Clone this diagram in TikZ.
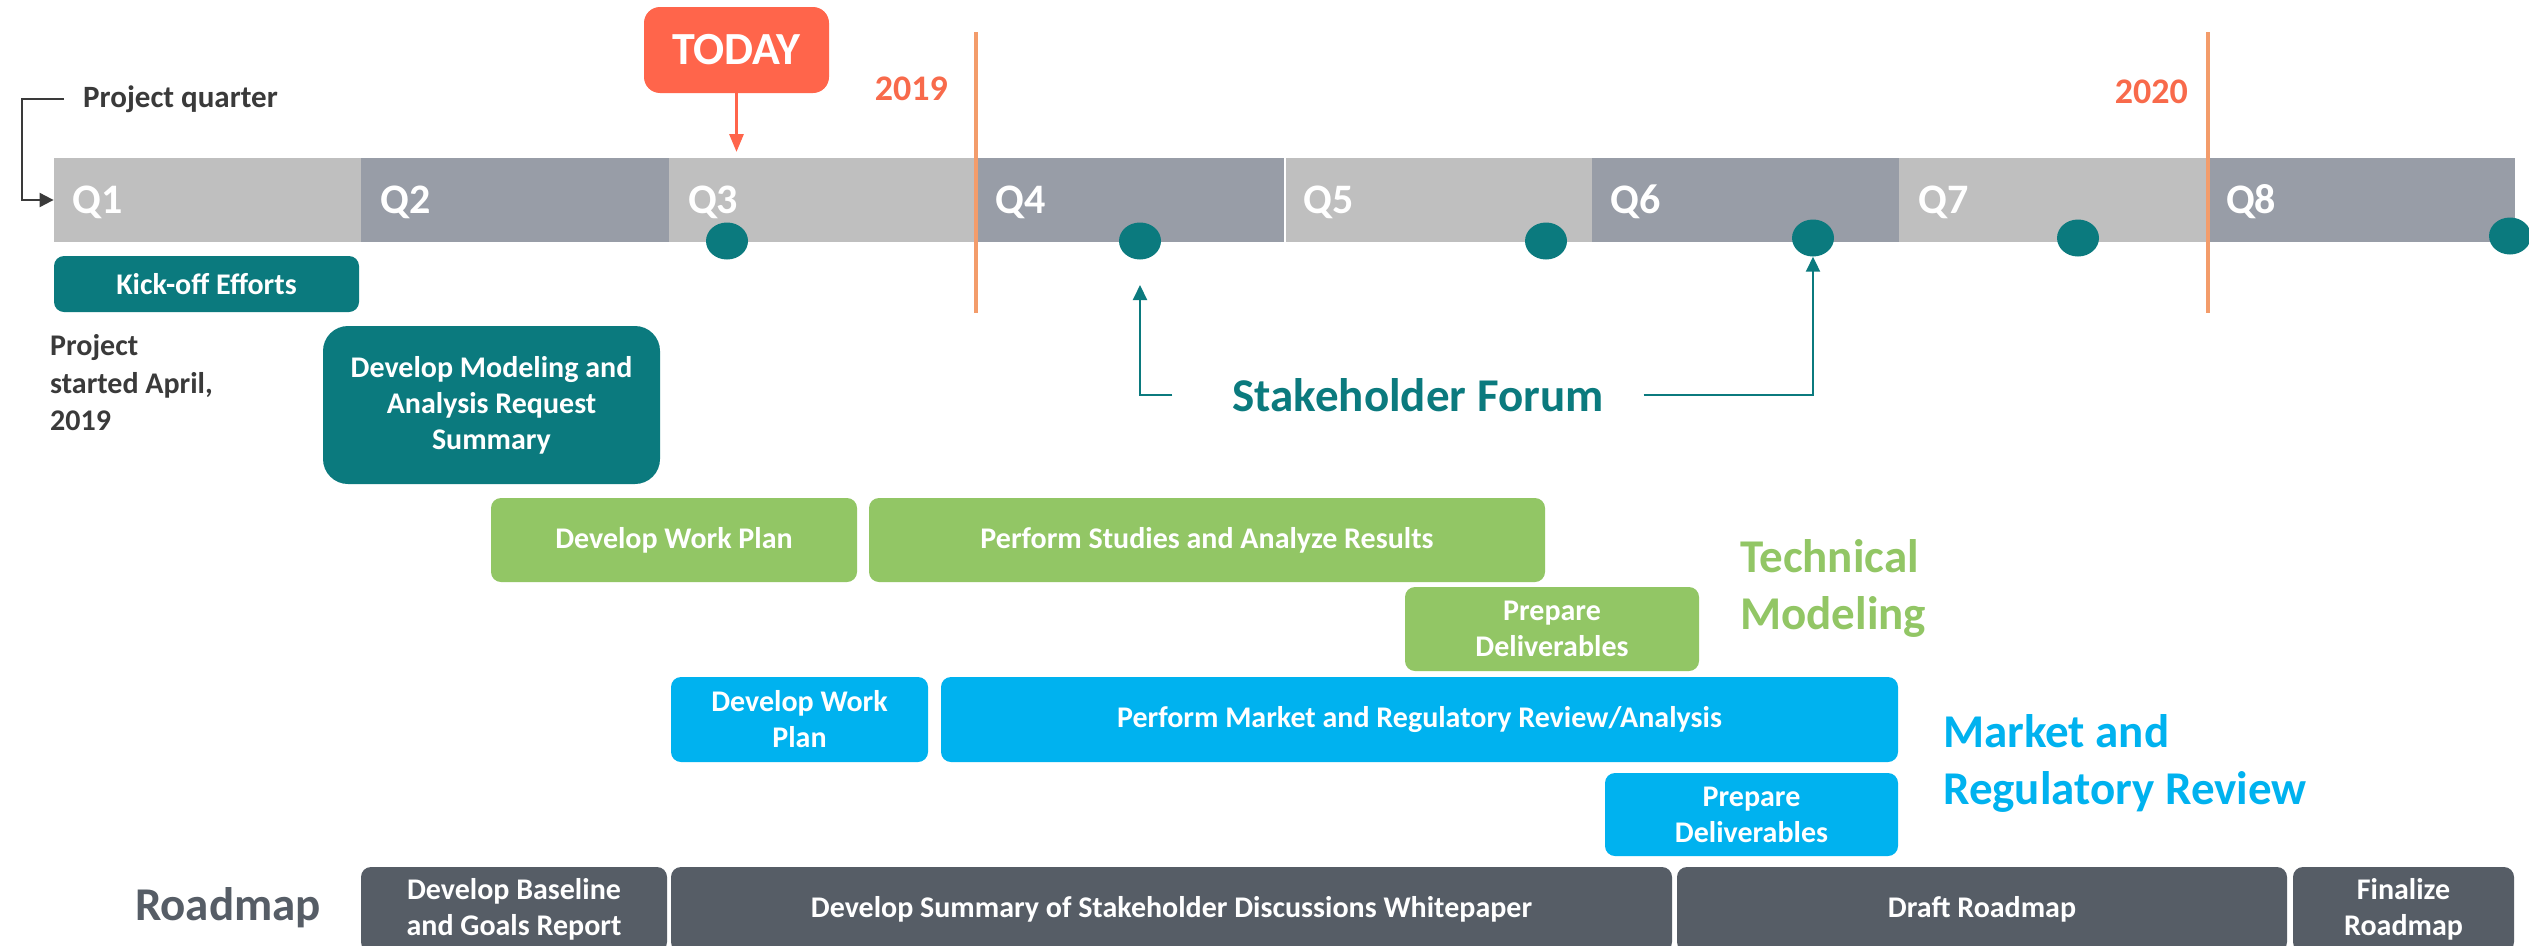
\documentclass[tikz,border=0pt]{standalone}
\usepackage{fontspec}
\setmainfont{Carlito}
\usetikzlibrary{shapes.geometric,arrows.meta}

\definecolor{cTeal}{HTML}{0B7A7E}
\definecolor{cGreen}{HTML}{92C665}
\definecolor{cBlue}{HTML}{00B2EF}
\definecolor{cSlate}{HTML}{565D66}
\definecolor{cBarLight}{HTML}{BFBFBF}
\definecolor{cBarDark}{HTML}{989DA7}
\definecolor{cToday}{HTML}{FF654B}
\definecolor{cYearText}{HTML}{F86A4B}
\definecolor{cYearLine}{HTML}{F39C6B}
\definecolor{cInk}{HTML}{3A3A3A}

% bold Carlito at a given size and line spacing
\newcommand\fsz[2]{\fontsize{#1}{#2}\selectfont\bfseries}

\begin{document}
\begin{tikzpicture}[x=1pt,y=-1pt,
  task/.style={rounded corners=10pt, inner sep=0pt, align=center, text=white, font=\fsz{30}{36}},
  quarter/.style={inner sep=0pt, minimum height=84pt, minimum width=308pt},
  qlabel/.style={anchor=west, inner sep=0pt, text=white, font=\fsz{42}{42}},
  milestone/.style={ellipse, fill=cTeal, inner sep=0pt, minimum width=42pt, minimum height=37pt},
  bigtitle/.style={inner sep=0pt, font=\fsz{47}{57}},
  yearline/.style={cYearLine, line width=4pt},
  forumlink/.style={cTeal, line width=2pt, -{Triangle[length=15pt,width=14pt]}},
]
\clip (0,0) rectangle (2529,945);
\fill[white] (0,0) rectangle (2529,945);

% quarter bar
\node[quarter, fill=cBarLight] (q1) at (207.8,200) {};
\node[quarter, fill=cBarDark]  (q2) at (515.4,200) {};
\node[quarter, fill=cBarLight] (q3) at (823.0,200) {};
\node[quarter, fill=cBarDark]  (q4) at (1130.6,200) {};
\node[quarter, fill=cBarLight] (q5) at (1438.2,200) {};
\node[quarter, fill=cBarDark]  (q6) at (1745.8,200) {};
\node[quarter, fill=cBarLight] (q7) at (2053.4,200) {};
\node[quarter, fill=cBarDark]  (q8) at (2361.0,200) {};
\draw[white, line width=2pt] (q4.north east) -- (q4.south east);
\foreach \q/\t in {q1/Q1,q2/Q2,q3/Q3,q4/Q4,q5/Q5,q6/Q6,q7/Q7,q8/Q8}
  \node[qlabel] at ([xshift=19pt,yshift=-2pt]\q.west) {\t};

% year boundaries
\draw[yearline] (976,32) -- (976,313);
\draw[yearline] (2208,32) -- (2208,313);
\node[anchor=east, inner sep=0pt, text=cYearText, font=\fsz{36}{36}] (y2019) at (948,89) {2019};
\node[anchor=east, inner sep=0pt, text=cYearText, font=\fsz{36}{36}] (y2020) at (2188,92) {2020};

% today marker
\node[fill=cToday, rounded corners=16pt, minimum width=185pt, minimum height=86pt,
      inner sep=0pt, text=white, font=\fsz{46}{46}] (today) at (736.5,50) {TODAY};
\coordinate (todaytip) at (736.5,152);
\draw[cToday, line width=3pt, -{Triangle[length=18pt,width=14pt]}] (today.south) -- (todaytip);

% milestones
\node[milestone] (d1) at (727,241) {};
\node[milestone] (d2) at (1140,241) {};
\node[milestone] (d3) at (1546,241) {};
\node[milestone] (d4) at (1813,238) {};
\node[milestone] (d5) at (2078,238) {};
\node[milestone] (d6) at (2510,236) {};

% legend for the bar
\node[anchor=west, inner sep=0pt, text=cInk, font=\fsz{31}{31}] (pq) at (83,99) {Project quarter};
\draw[cInk, line width=2pt, -{Triangle[length=14pt,width=14pt]}]
  ([xshift=-19pt]pq.west) -- ++(-42,0) |- (q1.west);

\node[anchor=west, align=left, inner sep=0pt, text=cInk, font=\fsz{30}{37.5}] (ps) at (50,383)
  {Project\\started April,\\2019};

% stakeholder forum
\node[bigtitle, text=cTeal] (sf) at (1418,395) {Stakeholder Forum};
\coordinate (f2tip) at (1140,285);
\draw[forumlink] ([xshift=-60pt]sf.west) -| (f2tip);
\draw[forumlink] ([xshift=40pt]sf.east) -| (d4.south);

% workstream titles
\node[bigtitle, text=cGreen, anchor=west, align=left] (tm) at (1740,588) {Technical\\Modeling};
\node[bigtitle, text=cBlue, anchor=west, align=left] (mr) at (1943,763) {Market and\\Regulatory Review};
\node[bigtitle, text=cSlate] (rm) at (228,908) {Roadmap};

% kick-off tasks
\node[task, fill=cTeal, minimum width=305pt, minimum height=56pt] (kick) at (206.5,284) {Kick-off Efforts};
\node[task, fill=cTeal, rounded corners=25pt, minimum width=337pt, minimum height=158pt] (model) at (491.5,405)
  {Develop Modeling and\\Analysis Request\\Summary};

% technical modeling tasks
\node[task, fill=cGreen, minimum width=366pt, minimum height=84pt] (gwp) at (674,540) {Develop Work Plan};
\node[task, fill=cGreen, minimum width=676pt, minimum height=84pt] (gps) at (1207,540) {Perform Studies and Analyze Results};
\node[task, fill=cGreen, minimum width=294pt, minimum height=84pt] (gpd) at (1552,629) {Prepare\\Deliverables};

% market and regulatory tasks
\node[task, fill=cBlue, minimum width=257pt, minimum height=85pt] (bwp) at (799.5,719.5) {Develop Work\\Plan};
\node[task, fill=cBlue, minimum width=957pt, minimum height=85pt] (bpm) at (1419.5,719.5) {Perform Market and Regulatory Review/Analysis};
\node[task, fill=cBlue, minimum width=293pt, minimum height=83pt] (bpd) at (1751.5,814.5) {Prepare\\Deliverables};

% roadmap tasks
\node[task, fill=cSlate, minimum width=306pt, minimum height=85pt] (r1) at (514,909.5) {Develop Baseline\\and Goals Report};
\node[task, fill=cSlate, minimum width=1001pt, minimum height=85pt] (r2) at (1171.5,909.5) {Develop Summary of Stakeholder Discussions Whitepaper};
\node[task, fill=cSlate, minimum width=610pt, minimum height=85pt] (r3) at (1982,909.5) {Draft Roadmap};
\node[task, fill=cSlate, minimum width=221pt, minimum height=85pt] (r4) at (2403.5,909.5) {Finalize\\Roadmap};
\end{tikzpicture}
\end{document}
